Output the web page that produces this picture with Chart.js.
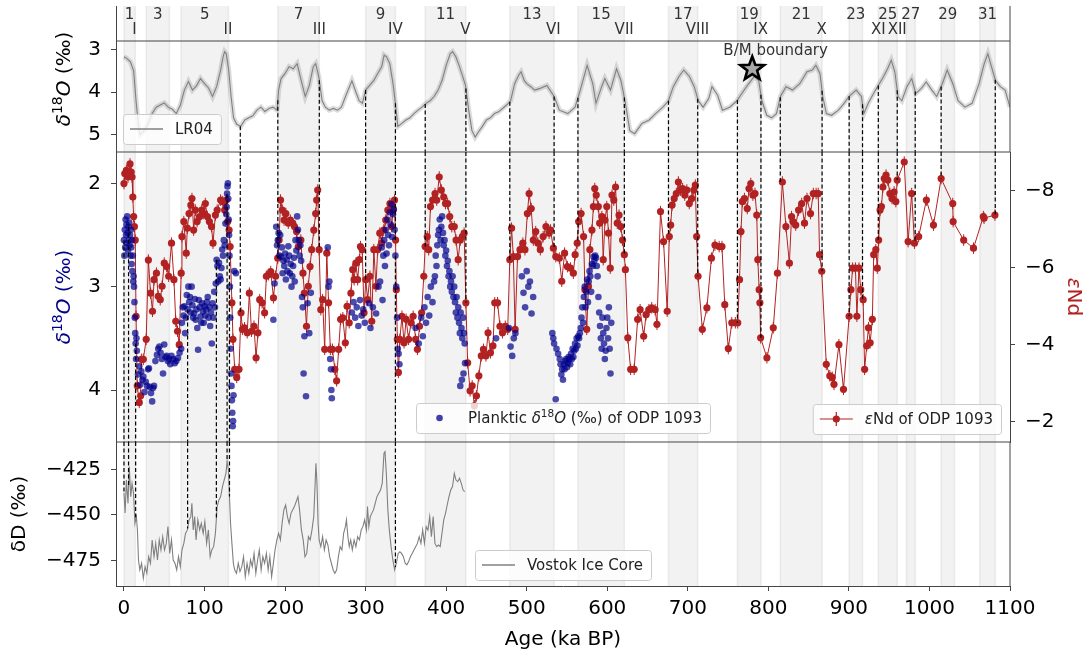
<!DOCTYPE html>
<html><head><meta charset="utf-8">
<script src="https://cdn.jsdelivr.net/npm/chart.js@4.4.1/dist/chart.umd.min.js"></script>
<style>
html,body{margin:0;padding:0;background:#fff;overflow:hidden}
#wrap{position:relative;width:1091px;height:659px;background:#fff}
#wrap canvas{position:absolute;left:0;top:0}
</style></head><body>
<div id="wrap">
<canvas id="cA" width="1091" height="659"></canvas>
<canvas id="cB" width="1091" height="659"></canvas>
<canvas id="cC" width="1091" height="659"></canvas>
</div>
<script>
// ---------------- DATA ----------------
const ageTicks = [0,100,200,300,400,500,600,700,800,900,1000,1100];
const lr04Ticks = [3,4,5];
const plankTicks = [2,3,4];
const ndTicks = [-8,-6,-4,-2];
const vostokTicks = [-425,-450,-475];

const misLabel = ['1','3','5','7','9','11','13','15','17','19','21','23','25','27','29','31'];
const misStart = [0,27.6,70.8,191,300,374,479,563.6,676,761.6,814.8,900.3,936.5,971.4,1014.5,1062.5];
const misEnd   = [14,56.5,129.7,242.5,337,424.5,534,621.2,712.3,790.8,866.7,916.9,960,982.3,1031,1081.7];

const termLabel = ['I','II','III','IV','V','VI','VII','VIII','IX','X','XI','XII'];
const termAge   = [13,129,242.5,337,424,533,621,712,790.5,866,936.5,960];

const lr04TieAges   = [144.4,191,242.5,300,337,374,424.5,479,534,563.6,621.2,676,712.3,761.6,790.8,814.8,866.7,900.3,916.9,936.5,960,982.3,1014.5,1081.7];
const vostokTieAges = [0,5.7,14.5,79,114.7,128,131,337];

const bmAge = 780, bmValue = 3.455;

const lr04 = [[0,3.17],[3,3.2],[8,3.29],[12,3.5],[15,4.2],[18,4.8],[20,5.0],[25,4.9],[30,4.73],[35,4.5],[40,4.35],[45,4.3],[50,4.25],[55,4.35],[60,4.4],[65,4.5],[70,4.3],[75,3.95],[80,3.75],[85,3.95],[90,3.85],[95,3.68],[100,3.8],[105,3.9],[110,4.1],[115,3.87],[120,3.48],[123,3.17],[125,3.05],[127,3.1],[130,3.48],[133,4.1],[136,4.6],[140,4.75],[145,4.8],[150,4.65],[155,4.6],[160,4.55],[165,4.42],[170,4.35],[175,4.45],[180,4.38],[185,4.35],[190,4.42],[192,3.95],[195,3.68],[200,3.56],[205,3.4],[210,3.45],[215,3.33],[220,3.72],[225,4.1],[230,3.85],[235,3.4],[238,3.33],[242,3.65],[246,4.2],[250,4.35],[255,4.42],[260,4.38],[265,4.42],[270,4.35],[275,4.1],[283,3.73],[288,4.0],[292,4.2],[296,4.26],[300,3.95],[305,3.84],[310,3.73],[315,3.56],[320,3.4],[323,3.13],[326,3.17],[330,3.33],[334,3.8],[337,4.26],[340,4.8],[345,4.73],[350,4.65],[355,4.6],[360,4.5],[365,4.42],[370,4.35],[375,4.26],[380,4.2],[385,4.1],[390,3.95],[395,3.72],[400,3.37],[405,3.1],[408,3.05],[412,3.17],[416,3.37],[420,3.6],[424,3.84],[428,4.42],[432,4.9],[436,5.05],[440,4.93],[445,4.8],[450,4.65],[455,4.6],[460,4.5],[465,4.46],[470,4.38],[475,4.3],[480,4.2],[485,3.8],[490,3.6],[493,3.52],[497,3.73],[500,3.8],[505,3.87],[510,3.95],[516.5,3.91],[525,3.84],[534,4.1],[540.5,4.42],[551,4.5],[560,4.35],[566.5,3.95],[575,3.37],[582,3.8],[586,4.26],[593,3.87],[597,3.68],[604,3.95],[611.5,3.45],[617,3.73],[622,4.2],[628,4.9],[634,4.97],[643,4.73],[652,4.65],[660,4.5],[669,4.35],[676,4.2],[682,3.87],[689,3.63],[695,3.48],[702,3.63],[708,3.87],[713,4.2],[719,4.35],[726,4.15],[730,3.87],[737,4.07],[743,4.42],[752,4.35],[761,4.2],[767,4.03],[774,3.84],[782.5,3.63],[788,3.73],[792,4.2],[798,4.54],[804,4.6],[810,4.5],[815,4.1],[822,3.87],[830,3.95],[839,3.8],[848,3.52],[854.5,3.48],[859,3.37],[864,3.56],[867.6,4.1],[872,4.5],[878.5,4.54],[887,4.42],[894,4.26],[900,4.1],[909,3.95],[915.5,4.1],[918.6,4.5],[924,4.26],[933,3.95],[941.7,3.68],[948,3.45],[952.6,3.25],[957,3.52],[961,4.1],[965.7,4.2],[972,3.87],[978,3.68],[983,4.03],[990,3.91],[996,3.76],[1003,3.95],[1009,4.1],[1016,3.8],[1022,3.48],[1029,3.8],[1035.5,4.2],[1044,4.35],[1053,4.26],[1061.6,3.8],[1068,3.33],[1072.5,3.1],[1077,3.4],[1082,3.73],[1088,3.87],[1094,3.95],[1100,4.35]];

const planktic = [[0,2.55],[0.5,2.7],[1,2.45],[1.5,2.62],[2,2.35],[2.5,2.5],[3,2.4],[3.5,2.58],[4,2.32],[4.5,2.48],[5,2.65],[5.5,2.42],[6,2.55],[6.5,2.38],[7,2.6],[7.5,2.5],[8,2.7],[8.5,2.45],[9,2.62],[9.5,2.78],[10,2.55],[10.5,2.85],[11,2.7],[11.5,2.95],[12,2.9],[12.5,3.0],[13,3.15],[13.5,3.3],[14,3.45],[14.5,3.55],[15,3.7],[15.5,3.5],[16,3.62],
[17.5,3.85],[19,3.77],[20,3.95],[21.5,3.82],[23,3.9],[24,3.87],[25.5,4.02],[27,3.92],[28.5,3.96],[30,3.8],[31,3.79],[32,3.97],[33.6,4.03],[35,4.11],[36,3.98],[37.3,3.96],
[39,3.72],[41,3.66],[42.5,3.6],[44,3.58],[45.5,3.64],[47,3.7],[48.5,3.84],[50,3.56],[51.5,3.68],[53,3.67],[54.5,3.72],[56,3.7],[57.5,3.75],[59,3.67],[61,3.7],[63,3.74],[65,3.72],[67,3.69],[69,3.64],[71,3.6],
[72,3.35],[73,3.2],[74,3.28],[75,3.19],[76,3.45],[77,3.3],[78,3.08],[79,3.22],[80,3.0],[81,3.15],[82,3.1],[83,3.25],[84,3.0],[85,3.18],[86,3.3],[87,3.26],[88,3.12],[89,3.32],[90,3.22],[91,3.4],[92,3.61],[93,3.13],[94,3.2],[95,3.29],[96,3.35],[97,3.16],[98,3.24],[99,3.35],[100,3.19],[101,3.28],[102,3.22],[103,3.15],[104,3.1],[105,3.3],[106,3.2],[107,3.38],[108,3.25],[109,3.55],[110,3.16],[111,3.3],[112,3.05],[113,3.2],[114,2.97],[115,2.74],[116,2.8],[117,2.95],
[118,2.77],[119,2.9],[120,2.93],[121,2.82],[122,2.64],[123,2.7],[124,2.55],[125,2.6],[126,2.39],[127,2.3],[127.5,2.23],[128,2.1],[128.5,2.03],[129,2.0],[129.5,2.15],[130,2.35],[130.5,2.5],[131,2.7],[131.5,3.0],[132,3.3],[132.5,3.6],[133,3.84],[133.5,3.96],[134,4.1],[134.5,4.22],[135,4.35],[135.5,4.3],[136,4.05],[137,2.85],[139,2.87],
[185.5,3.32],[187,2.97],[189,2.42],[190,2.6],[191,2.55],[192,2.48],[193,2.7],[194,2.5],[195,2.71],[196,2.62],[197,2.87],[198,2.75],[199,2.8],[200,2.68],[201,2.93],[202,2.74],[203,2.85],[204,2.61],[205,2.7],[206,2.87],[207,2.78],[208,3.0],[209,2.9],[210,2.8],[211,2.72],[212,2.95],[213,2.55],[214,2.65],[215,2.32],[216,2.45],[217,2.55],[218,2.7],[219,2.6],[220,2.75],[221,3.1],[222,3.2],[223,3.84],[224,3.48],[226,4.06],[228,3.16],[230,3.45],[232,3.06],
[253,2.62],[254,3.0],[255,2.95],[256,3.7],[257,3.8],[257.5,4.0],[258,4.08],
[283,3.25],[285,3.15],[287,3.3],[289,3.2],[291,3.38],[293,3.13],[295,3.28],[297,3.22],[299,3.35],
[304,3.16],[306,3.4],[309,3.2],[313,3.26],[316,3.0],
[318,2.95],[320,2.62],[321,3.13],[322,2.7],[323,2.55],[324,2.8],[325,2.45],[326,2.68],[327,2.35],[328,2.5],[329,2.6],[330,2.28],[331,2.4],[332,2.2],[333,2.52],[334,2.3],[335,2.25],[336,2.45],[337,2.7],[338,3.0],[339,3.3],[340,3.6],[341,3.65],[342,3.75],
[362,3.4],[366,3.55],[369,3.3],[371,3.48],[373,3.2],[375,3.35],[377,3.1],[379,3.28],[381,3.0],[383,3.15],
[385,2.95],[386,2.9],[387,2.7],[388,2.8],[389,2.6],[390,2.5],[391,2.45],[392,2.35],[393,2.55],[394,2.42],[395,2.32],[396,2.48],[397,2.6],[398,2.55],[399,2.7],[400,2.65],[401,2.8],[402,2.75],[403,2.9],[404,2.85],[405,3.0],[406,2.95],[407,3.05],[408,2.9],[409,3.1],[410,3.0],[411,3.15],[412,3.25],[413,3.1],[414,3.3],[415,3.2],[416,3.35],[417,3.45],[417.5,3.96],[418,3.25],[419,3.4],[419.5,3.9],[420,3.5],[421,3.3],[421.5,3.84],[422,3.45],[423,3.55],[423.5,3.74],
[462,3.5],[478,3.4],[480,3.58],[482,3.67],[484,3.5],[486,3.45],[494,2.9],[496,3.06],[498,3.2],[500,2.85],[502,3.0],[504,2.95],[506,3.26],[508,3.1],
[531.8,3.45],[533,3.5],[534,3.55],[536,4.09],[537,3.6],[539,3.65],[541,3.7],[542,3.75],[543,3.85],[544,3.8],[545,3.9],[546,3.75],[547,3.8],[548,3.72],[549,3.7],[550,3.78],[551,3.74],[552,3.68],[553,3.7],[554,3.75],[555,3.65],[556,3.7],[557,3.6],[558,3.68],[559,3.62],[560,3.55],[561,3.6],[562,3.5],[563,3.57],[564,3.48],[565,3.5],[566,3.45],[567,3.4],[568,3.3],[569,3.2],[570,3.35],[571,3.1],[572,3.0],[573,3.2],[574,3.05],[575,2.93],[576,3.15],[577,2.95],[578,2.85],[579,2.9],[580,3.05],[581,2.78],[582,2.8],[583,2.71],[584,2.75],[585,2.7],[586,2.72],[587,2.8],[588,2.9],[589,3.1],[590,3.25],[591,3.38],[592,3.5],[593,3.6],[594,3.3],[595,3.45],[596,3.55],[597,3.7],[598,3.62],[599,3.4],[600,3.3],[601,3.5],[602,3.2],[603,3.6],[604,3.84],[605,3.35]];

const epsNd = [[0,-8.19],[1,-8.45],[3,-8.53],[5,-8.36],[7.5,-8.7],[9,-8.49],[10,-8.36],[11,-7.84],[12,-7.33],[13,-7.07],[14,-6.72],[15,-4.74],[16.5,-2.93],[19,-2.5],[20.7,-2.67],[21.6,-3.62],[24,-3.62],[27.6,-4.14],[30.3,-6.2],[33,-5.34],[35.4,-4.87],[37.3,-5.69],[40.3,-5.86],[42.5,-5.26],[45,-5.17],[47.3,-5.52],[50,-6.12],[53,-6.03],[55.5,-5.78],[59,-6.64],[62,-5.69],[64.3,-4.61],[66.5,-4.35],[68.6,-4.0],[71,-5.86],[72,-6.81],[74.3,-7.2],[77.3,-6.38],[78.6,-7.03],[80.8,-7.41],[83,-7.63],[84.4,-7.8],[86.5,-6.98],[88.6,-7.5],[90.8,-7.2],[94,-7.33],[96.5,-7.5],[99,-7.41],[101,-7.67],[103.6,-7.33],[106,-7.2],[108.7,-7.07],[110.5,-6.64],[113.5,-7.37],[115.7,-7.5],[120,-7.76],[122.7,-7.72],[125,-7.5],[127,-7.76],[128.8,-7.2],[130.5,-6.98],[131.8,-6.55],[134,-5.09],[135.3,-4.14],[137.5,-3.36],[140,-3.15],[142.8,-3.36],[145.3,-4.83],[147,-4.4],[149.7,-4.44],[153,-4.31],[155.7,-5.34],[158.3,-4.35],[161.4,-4.48],[164,-3.66],[166.3,-4.31],[168.5,-5.17],[171.5,-5.09],[174.6,-4.83],[176.8,-5.78],[179.5,-5.82],[182.2,-5.9],[185.6,-5.22],[188.2,-5.78],[190.9,-6.25],[192.6,-6.72],[194.4,-7.76],[196.6,-7.5],[198.8,-7.24],[201,-7.41],[204,-7.16],[206.5,-7.24],[209.5,-7.16],[211.7,-7.07],[214.3,-6.94],[216.5,-6.55],[219.6,-6.72],[222.2,-5.86],[224,-5.34],[226.6,-4.48],[228.8,-5.52],[231,-6.03],[233,-6.47],[235.7,-6.98],[238,-7.41],[239.2,-7.76],[240.5,-8.02],[242.3,-6.47],[244.4,-4.91],[246.6,-5.17],[249.2,-3.88],[251.8,-6.38],[254,-5.09],[256.2,-3.88],[258.8,-3.88],[261.8,-3.36],[264,-3.06],[266.5,-3.88],[269,-4.66],[271.7,-4.7],[274.8,-4.05],[277,-5.0],[279.6,-4.57],[281.8,-5.34],[284,-5.95],[285.7,-5.69],[287.9,-6.12],[290.1,-5.69],[292.3,-6.21],[293.6,-6.55],[295.8,-6.47],[298,-4.83],[300.2,-5.69],[302.4,-5.17],[305.4,-5.78],[307.6,-4.61],[310.2,-6.47],[312.8,-5.52],[315,-6.47],[317.6,-6.9],[319.8,-6.64],[322.4,-6.98],[325,-7.24],[327.6,-7.5],[330.2,-7.67],[332.4,-7.07],[334.1,-7.5],[335.9,-7.76],[337.2,-6.72],[338.1,-5.43],[339.4,-4.14],[340.7,-3.28],[342.5,-4.14],[345.1,-4.74],[347.7,-4.05],[350.3,-4.66],[353.3,-4.14],[356.4,-4.57],[359,-4.74],[362.1,-4.14],[364.3,-3.88],[366.9,-4.48],[369.5,-4.83],[372.2,-5.78],[373.9,-6.55],[376.5,-6.81],[378.3,-6.47],[380.5,-7.59],[383.1,-7.76],[386.2,-7.93],[388.3,-7.76],[391.4,-8.36],[394,-8.02],[397,-7.84],[399.2,-7.67],[401.8,-7.67],[404.4,-7.33],[407,-7.07],[410.1,-7.07],[412.3,-6.72],[414.9,-6.21],[417.5,-6.72],[420.1,-6.81],[422.3,-6.9],[424.5,-5.09],[426.7,-3.53],[429.7,-2.8],[432.3,-2.93],[435,-2.41],[437.6,-2.67],[440.6,-3.19],[443.6,-3.71],[446.3,-3.88],[449.4,-3.71],[452,-4.31],[455,-3.79],[458.1,-3.97],[460.3,-5.09],[463.8,-5.09],[466.8,-4.48],[469.9,-4.31],[473.4,-4.48],[476.4,-4.4],[479,-6.21],[481.2,-7.03],[483.4,-6.29],[485.6,-4.4],[488.6,-6.29],[491.7,-6.47],[495.2,-6.64],[497.8,-6.47],[500.8,-7.41],[503,-7.93],[505.6,-7.54],[508.2,-6.72],[511.2,-6.94],[513.9,-6.64],[516.9,-6.47],[520.4,-6.81],[523.9,-7.07],[527.8,-6.9],[529.6,-6.98],[533.1,-6.51],[536.1,-6.29],[540.5,-6.25],[543.5,-5.65],[547,-6.38],[550.5,-6.03],[554.4,-5.99],[557.9,-5.86],[560.1,-6.34],[562.7,-6.64],[564.5,-7.2],[567.5,-7.41],[570.6,-6.81],[572.3,-5.43],[574.5,-4.4],[576.7,-5.52],[578.4,-6.47],[581,-6.98],[582.8,-7.59],[584.5,-8.06],[586.3,-7.89],[588.9,-7.59],[590.6,-7.16],[593.3,-7.33],[595,-6.21],[597.2,-7.24],[599.4,-7.59],[601.5,-6.9],[603.7,-5.99],[605.9,-7.89],[608.1,-7.76],[610.3,-8.1],[612.4,-7.16],[614.6,-7.37],[616.8,-7.07],[619,-6.72],[621.2,-6.34],[622.5,-5.95],[625.5,-4.18],[629,-3.36],[633.4,-3.36],[637.7,-4.66],[640.8,-4.91],[645.2,-4.22],[648.2,-4.78],[651.7,-4.91],[655.2,-4.96],[659.5,-4.91],[661.7,-4.53],[666.1,-7.46],[669.9,-6.68],[674.4,-4.87],[677,-6.81],[678.7,-7.11],[680.5,-7.63],[683.1,-7.8],[685.7,-7.93],[688.3,-8.23],[691,-8.02],[693.6,-8.06],[696.2,-7.89],[698.8,-8.02],[701.8,-7.67],[704.9,-7.8],[707.5,-8.02],[709.3,-8.15],[711,-6.81],[712.7,-5.78],[718,-4.4],[723.7,-4.96],[729.3,-6.25],[733.7,-6.59],[738.9,-6.55],[742.4,-6.55],[745.9,-5.04],[750.3,-3.9],[754.6,-4.57],[759,-4.57],[762,-4.57],[764.2,-5.69],[766,-6.94],[767.7,-7.72],[770.3,-7.8],[773.8,-7.54],[776,-8.06],[778.2,-8.19],[780.8,-7.89],[783.4,-7.93],[785.6,-7.37],[786.9,-6.21],[788.6,-5.43],[789.5,-5.09],[790.4,-4.18],[798.2,-3.66],[806.1,-4.44],[811.3,-5.86],[817.4,-8.23],[821.8,-7.07],[826.1,-6.12],[828.8,-7.33],[830.5,-7.2],[834,-7.11],[837.5,-7.5],[841.4,-7.67],[844.9,-7.16],[848,-7.8],[852.3,-7.41],[855.8,-7.93],[859.3,-7.93],[861.9,-7.93],[863.6,-6.34],[866.3,-5.91],[871.9,-3.49],[876.3,-3.19],[879.3,-3.15],[881.5,-2.97],[887.6,-4.0],[893.3,-2.84],[900.3,-4.74],[902.5,-5.43],[904.6,-5.99],[908.1,-5.99],[909.9,-4.74],[912.5,-5.99],[914.7,-5.43],[917.7,-5.17],[919.5,-3.36],[922.1,-3.97],[924.3,-4.44],[926.4,-4.05],[929.1,-4.66],[930.8,-6.34],[933.4,-6.47],[935.2,-5.99],[936.9,-6.72],[938.7,-7.5],[940.4,-7.59],[942.2,-8.1],[943.9,-8.32],[946.1,-8.41],[948.3,-8.28],[950.9,-7.93],[953.5,-7.8],[956.1,-7.97],[958.3,-7.72],[960,-8.28],[968.7,-8.75],[973.5,-6.68],[977.9,-7.93],[981.4,-6.64],[986.6,-6.81],[996.2,-7.76],[1005,-7.11],[1014.5,-8.32],[1028.9,-7.67],[1029.4,-7.2],[1042.5,-6.72],[1054.7,-6.51],[1066.9,-7.33],[1067.8,-7.29],[1081.3,-7.37]];
const epsNdErr = 0.15;

const vostok = [[0,-438],[1.4,-449],[3,-430.9],[5,-443.7],[6.6,-423.5],[8.4,-440],[10,-432.7],[11.9,-438.2],[13.6,-454.7],[15.4,-451],[16.7,-458.3],[18,-474.8],[19.7,-480.3],[21.9,-476.6],[24,-484.9],[26.2,-478.5],[28.4,-482.1],[30.6,-473],[32.9,-476.6],[35,-463.8],[37.3,-473],[39.4,-465.7],[41.6,-474.8],[43.8,-463.8],[45.9,-469.3],[48.1,-462],[50.3,-469.3],[52.5,-465.7],[54.6,-456.5],[56.8,-471.2],[59,-463.8],[61.1,-474.8],[63.3,-476.6],[65.5,-480.3],[67.7,-473],[69.9,-478.5],[72,-469.3],[74.3,-465.7],[76.4,-460.2],[78.7,-458.3],[80.8,-452.8],[83,-451],[84.3,-443.7],[86,-458.3],[87.8,-451],[89.5,-463.8],[91.7,-452.8],[94,-458.3],[96,-454.7],[98.3,-460.2],[100.4,-453.8],[102.6,-465.7],[104.8,-458.3],[107,-473],[109,-469.3],[111.3,-467.5],[113.5,-460.2],[115.7,-445.5],[117.9,-441.8],[120,-440],[122.3,-434.5],[124.4,-430.9],[126.6,-427.2],[128,-420.8],[129.7,-425.4],[131,-440],[132.3,-454.7],[134,-465.7],[135.8,-476.6],[137.5,-480.3],[139.7,-482.1],[141.9,-476.6],[144,-481.2],[146.3,-478.5],[148.4,-473],[150.6,-484],[152.8,-476.6],[155,-482.1],[157.1,-474.8],[159.3,-478.5],[161.5,-471.2],[163.7,-482.1],[165.9,-474.8],[168,-469.3],[170.3,-480.3],[172.4,-473],[174.6,-476.6],[176.8,-471.2],[179,-480.3],[181.1,-473],[183.3,-484],[185.5,-476.6],[187.6,-469.3],[189.8,-463.8],[192,-460.2],[194.2,-463.8],[196.3,-454.7],[198.5,-447.3],[200.7,-444.6],[202.9,-451],[205,-454.7],[207.3,-449.2],[209.4,-447.3],[211.6,-445.5],[213.8,-442.8],[216,-440],[218,-447.3],[220.3,-458.3],[222.5,-463.8],[224.7,-473],[226.9,-471.2],[229,-462],[231.2,-463.8],[233.4,-458.3],[235.6,-451],[237,-436.4],[238.3,-421.7],[239.6,-432.7],[241,-454.7],[242.3,-463.8],[244.4,-467.5],[246.6,-462],[248.8,-469.3],[251,-463.8],[253.2,-466.6],[255.3,-473],[257.5,-476.6],[259.7,-480.3],[261.8,-482.1],[264,-480.3],[266.2,-473],[268.4,-467.5],[270.6,-469.3],[272.7,-460.2],[274.9,-456.5],[276.2,-452.8],[278,-462],[279.7,-467.5],[281.5,-463.8],[283.5,-469.3],[285.7,-463.8],[287.9,-467.5],[290.1,-462],[292.3,-463.8],[294.5,-458.3],[296.6,-456.5],[298.8,-452.8],[301,-458.3],[302.3,-445.5],[304,-456.5],[305.8,-451],[307.6,-449.2],[309.8,-447.3],[311.9,-443.7],[314.1,-440],[316.3,-438.2],[318.5,-436.4],[320.6,-432.7],[322.8,-416.2],[324.1,-415.3],[325.9,-429],[327.6,-447.3],[329.4,-458.3],[331.6,-467.5],[333.8,-474.8],[336,-480.3],[338.2,-476.6],[340.4,-471.2],[342.5,-470.3],[344.7,-471.2],[346.9,-473],[349.1,-476.6],[351.2,-477.5],[353.4,-475.7],[355.6,-473],[357.8,-471.2],[360,-469.3],[362.1,-467.5],[364.3,-465.7],[366.5,-462],[368.7,-465.7],[370.8,-458.3],[373,-465.7],[375.2,-456.5],[377.4,-458.3],[379.6,-451],[381.7,-462],[383.9,-451],[386.1,-465.7],[388.3,-467.5],[390.5,-466.6],[392.6,-467.5],[394.8,-460.2],[397,-452.8],[399.2,-449.2],[401.3,-444.6],[403.5,-440],[405.7,-436.4],[407.9,-434.5],[410.1,-427.2],[412.2,-430.9],[414.4,-431.8],[416.6,-429.9],[418.8,-432.7],[421,-436.4],[423.1,-437.3]];

// ---------------- LAYOUT / STYLE ----------------
const FONT = '"DejaVu Sans", "Liberation Sans", sans-serif';
const W = 1091, H = 659;
const AREA_R = 1010, LEFT_W = 116;
const PANEL_A = [6, 152], PANEL_B = [152, 442], PANEL_C = [442, 586];
const SPINE = '#444';
const X_MIN = -9.9, X_MAX = 1100;

const toPts = arr => arr.map(p => ({x: p[0], y: p[1]}));
const fmt = v => (v < 0 ? '\u2212' + Math.abs(v) : String(v));

function interp(series, age) {
  if (age <= series[0][0]) return series[0][1];
  for (let i = 1; i < series.length; i++) {
    if (series[i][0] >= age) {
      const a0 = series[i-1][0], v0 = series[i-1][1], a1 = series[i][0], v1 = series[i][1];
      return v0 + (v1 - v0) * (age - a0) / (a1 - a0);
    }
  }
  return series[series.length-1][1];
}
function nearest(series, age) {
  let best = series[0];
  for (const p of series) if (Math.abs(p[0]-age) < Math.abs(best[0]-age)) best = p;
  return best[1];
}

function xAxis(show) {
  return {
    type: 'linear', min: X_MIN, max: X_MAX, display: show,
    afterBuildTicks(s) { s.ticks = ageTicks.map(v => ({value: v})); },
    afterFit(s) { if (show) s.height = H - PANEL_C[1]; s.paddingLeft = 0; s.paddingRight = 0; },
    ticks: { font: {family: FONT, size: 20}, color: '#000', padding: 6, maxRotation: 0, autoSkip: false, callback: v => fmt(v) },
    grid: { display: true, drawOnChartArea: false, drawTicks: true, tickLength: 5, color: SPINE },
    border: { display: true, color: SPINE, width: 1 },
    title: { display: true, text: 'Age (ka BP)', font: {family: FONT, size: 20}, color: '#000', padding: {top: 0, bottom: 7} }
  };
}
function yAxis(o) {
  return {
    type: 'linear', position: o.position || 'left', min: o.min, max: o.max, reverse: !!o.reverse,
    afterFit(s) { s.width = o.width; s.paddingTop = 0; s.paddingBottom = 0; },
    afterBuildTicks(s) { s.ticks = o.ticks.map(v => ({value: v})); },
    ticks: { font: {family: FONT, size: 20}, color: '#000', padding: 10, callback: v => fmt(v) },
    grid: { display: true, drawOnChartArea: false, drawTicks: true, tickLength: 5, color: SPINE },
    border: { display: true, color: SPINE, width: 1 },
    title: o.title || { display: false }
  };
}

// ---------------- DRAW HELPERS ----------------
function drawBands(chart) {
  const {ctx, chartArea: a, scales: {x}} = chart;
  ctx.save();
  ctx.beginPath(); ctx.rect(a.left, a.top, a.right - a.left, a.bottom - a.top); ctx.clip();
  for (let i = 0; i < misStart.length; i++) {
    const x0 = x.getPixelForValue(misStart[i]), x1 = x.getPixelForValue(misEnd[i]);
    ctx.fillStyle = 'rgba(128,128,128,0.1)';
    ctx.fillRect(x0, a.top, x1 - x0, a.bottom - a.top);
    ctx.strokeStyle = 'rgba(128,128,128,0.13)'; ctx.lineWidth = 1.5;
    ctx.beginPath(); ctx.moveTo(x0, a.top); ctx.lineTo(x0, a.bottom); ctx.moveTo(x1, a.top); ctx.lineTo(x1, a.bottom); ctx.stroke();
  }
  ctx.restore();
}
function dashed(ctx, x, y0, y1) {
  ctx.save(); ctx.strokeStyle = '#000'; ctx.lineWidth = 1.2; ctx.setLineDash([4, 2.5]);
  ctx.beginPath(); ctx.moveTo(x, y0); ctx.lineTo(x, y1); ctx.stroke(); ctx.restore();
}
function hline(ctx, x0, x1, y) {
  ctx.save(); ctx.strokeStyle = SPINE; ctx.lineWidth = 1;
  ctx.beginPath(); ctx.moveTo(x0, y); ctx.lineTo(x1, y); ctx.stroke(); ctx.restore();
}
function vline(ctx, x, y0, y1) {
  ctx.save(); ctx.strokeStyle = SPINE; ctx.lineWidth = 1;
  ctx.beginPath(); ctx.moveTo(x, y0); ctx.lineTo(x, y1); ctx.stroke(); ctx.restore();
}
function richItems(ctx, runs, size) {
  return runs.map(r => {
    const s = r.sup ? size * 0.7 : size;
    const f = (r.it ? 'italic ' : '') + s + 'px ' + FONT;
    ctx.font = f;
    return {r, f, w: ctx.measureText(r.t).width};
  });
}
function richWidth(ctx, runs, size) {
  ctx.save(); const w = richItems(ctx, runs, size).reduce((a, b) => a + b.w, 0); ctx.restore(); return w;
}
function drawRich(ctx, runs, x, y, size, color, align, rot) {
  ctx.save(); ctx.translate(x, y); if (rot) ctx.rotate(rot);
  const items = richItems(ctx, runs, size);
  const tw = items.reduce((a, b) => a + b.w, 0);
  let cx = align === 'center' ? -tw / 2 : 0;
  const base = size * 0.36;
  ctx.fillStyle = color; ctx.textBaseline = 'alphabetic'; ctx.textAlign = 'left';
  for (const it of items) {
    ctx.font = it.f;
    ctx.fillText(it.r.t, cx, it.r.sup ? base - size * 0.42 : base);
    cx += it.w;
  }
  ctx.restore();
}
function rrect(ctx, x, y, w, h, r) {
  ctx.beginPath(); ctx.moveTo(x + r, y); ctx.lineTo(x + w - r, y); ctx.arcTo(x + w, y, x + w, y + r, r);
  ctx.lineTo(x + w, y + h - r); ctx.arcTo(x + w, y + h, x + w - r, y + h, r); ctx.lineTo(x + r, y + h);
  ctx.arcTo(x, y + h, x, y + h - r, r); ctx.lineTo(x, y + r); ctx.arcTo(x, y, x + r, y, r); ctx.closePath();
}
const LEG = {size: 15, pad: 7, hw: 33, gap: 12, padR: 8, h: 30};
function legendWidth(ctx, runs) { return LEG.pad + LEG.hw + LEG.gap + richWidth(ctx, runs, LEG.size) + LEG.padR; }
function drawLegend(ctx, x0, yc, runs, handle) {
  const w = legendWidth(ctx, runs);
  ctx.save();
  rrect(ctx, x0 + 0.5, yc - LEG.h / 2 + 0.5, w, LEG.h, 3);
  ctx.fillStyle = 'rgba(255,255,255,0.8)'; ctx.fill();
  ctx.strokeStyle = '#cccccc'; ctx.lineWidth = 1; ctx.stroke();
  ctx.restore();
  ctx.save(); handle(ctx, x0 + LEG.pad, x0 + LEG.pad + LEG.hw, yc); ctx.restore();
  drawRich(ctx, runs, x0 + LEG.pad + LEG.hw + LEG.gap, yc, LEG.size, '#222', 'left');
}
function lineHandle(color, width) {
  return (ctx, x0, x1, y) => { ctx.strokeStyle = color; ctx.lineWidth = width; ctx.beginPath(); ctx.moveTo(x0, y); ctx.lineTo(x1, y); ctx.stroke(); };
}
function starPath(ctx, cx, cy, ro, ri) {
  ctx.beginPath();
  for (let i = 0; i < 10; i++) {
    const r = i % 2 ? ri : ro, ang = -Math.PI / 2 + i * Math.PI / 5;
    const px = cx + r * Math.cos(ang), py = cy + r * Math.sin(ang);
    if (i === 0) ctx.moveTo(px, py); else ctx.lineTo(px, py);
  }
  ctx.closePath();
}
const d18Runs = [{t: 'δ', it: true}, {t: '18', sup: true}, {t: 'O', it: true}, {t: ' (‰)'}];

// ---------------- PANEL A : LR04 ----------------
const panelA = {
  id: 'panelA',
  beforeDatasetsDraw(chart) { drawBands(chart); },
  afterDatasetsDraw(chart) {
    const {ctx, chartArea: a, scales: {x, y}} = chart;
    for (const age of lr04TieAges) {
      const px = x.getPixelForValue(age);
      dashed(ctx, px, y.getPixelForValue(interp(lr04, age)), a.bottom);
    }
  },
  afterDraw(chart) {
    const {ctx, chartArea: a, scales: {x, y}} = chart;
    hline(ctx, a.left, a.right, y.getPixelForValue(2.8));
    hline(ctx, a.left, a.right, a.bottom);
    vline(ctx, a.right, a.top, a.bottom);
    ctx.save();
    ctx.font = '15px ' + FONT; ctx.fillStyle = '#333'; ctx.textAlign = 'center'; ctx.textBaseline = 'middle';
    for (let i = 0; i < misLabel.length; i++) {
      ctx.fillText(misLabel[i], x.getPixelForValue((misStart[i] + misEnd[i]) / 2), y.getPixelForValue(2.19));
    }
    for (let i = 0; i < termLabel.length; i++) {
      ctx.fillText(termLabel[i], x.getPixelForValue(termAge[i]), y.getPixelForValue(2.54));
    }
    ctx.fillText('B/M boundary', x.getPixelForValue(809), y.getPixelForValue(3.03));
    ctx.restore();
    ctx.save();
    starPath(ctx, x.getPixelForValue(bmAge), y.getPixelForValue(bmValue), 12.5, 5.2);
    ctx.fillStyle = '#a8a8a8'; ctx.fill();
    ctx.lineWidth = 2.6; ctx.strokeStyle = '#000'; ctx.lineJoin = 'miter'; ctx.stroke();
    ctx.restore();
    drawLegend(ctx, a.left + 7, a.bottom - 23, [{t: 'LR04'}], lineHandle('#808080', 1.3));
    drawRich(ctx, d18Runs, 63, (a.top + a.bottom) / 2, 20, '#000', 'center', -Math.PI / 2);
  }
};

new Chart(document.getElementById('cA'), {
  type: 'line',
  data: { datasets: [
    { data: toPts(lr04), borderColor: '#808080', borderWidth: 1.1, pointRadius: 0, tension: 0 },
    { data: toPts(lr04), borderColor: 'rgba(128,128,128,0.28)', borderWidth: 5, pointRadius: 0, tension: 0 }
  ]},
  options: {
    responsive: false, animation: false, events: [],
    layout: { padding: { left: 0, right: W - AREA_R, top: PANEL_A[0], bottom: H - PANEL_A[1] } },
    plugins: { legend: {display: false}, tooltip: {enabled: false} },
    scales: { x: xAxis(false), y: yAxis({min: 1.98, max: 5.40, reverse: true, ticks: lr04Ticks, width: LEFT_W}) }
  },
  plugins: [panelA]
});

// ---------------- PANEL B : ODP 1093 ----------------
const panelB = {
  id: 'panelB',
  beforeDatasetsDraw(chart) {
    drawBands(chart);
    const {ctx, scales: {x, y2}} = chart;
    ctx.save(); ctx.strokeStyle = '#b22222'; ctx.lineWidth = 1;
    ctx.beginPath();
    for (const p of epsNd) {
      const px = x.getPixelForValue(p[0]);
      ctx.moveTo(px, y2.getPixelForValue(p[1] - epsNdErr));
      ctx.lineTo(px, y2.getPixelForValue(p[1] + epsNdErr));
    }
    ctx.stroke(); ctx.restore();
  },
  afterDatasetsDraw(chart) {
    const {ctx, chartArea: a, scales: {x, y, y2}} = chart;
    for (const age of lr04TieAges) {
      dashed(ctx, x.getPixelForValue(age), a.top, y2.getPixelForValue(nearest(epsNd, age)));
    }
    for (const age of vostokTieAges) {
      dashed(ctx, x.getPixelForValue(age), y.getPixelForValue(nearest(planktic, age)), a.bottom);
    }
  },
  afterDraw(chart) {
    const {ctx, chartArea: a} = chart;
    hline(ctx, a.left, a.right, a.bottom);
    const pRuns = [{t: 'Planktic '}, {t: 'δ', it: true}, {t: '18', sup: true}, {t: 'O', it: true}, {t: ' (‰) of ODP 1093'}];
    const pw = legendWidth(ctx, pRuns);
    drawLegend(ctx, (a.left + a.right) / 2 - pw / 2, a.bottom - 24, pRuns, (c, x0, x1, yc) => {
      c.fillStyle = 'rgba(0,0,139,0.75)'; c.beginPath(); c.arc((x0 + x1) / 2, yc, 3.3, 0, Math.PI * 2); c.fill();
    });
    const nRuns = [{t: 'ε', it: true}, {t: 'Nd of ODP 1093'}];
    const nw = legendWidth(ctx, nRuns);
    drawLegend(ctx, a.right - 9 - nw, a.bottom - 23, nRuns, (c, x0, x1, yc) => {
      c.strokeStyle = '#b22222'; c.lineWidth = 1.2;
      c.beginPath(); c.moveTo(x0, yc); c.lineTo(x1, yc); c.moveTo((x0 + x1) / 2, yc - 7); c.lineTo((x0 + x1) / 2, yc + 7); c.stroke();
      c.fillStyle = '#b22222'; c.beginPath(); c.arc((x0 + x1) / 2, yc, 3.6, 0, Math.PI * 2); c.fill();
    });
    drawRich(ctx, d18Runs, 63, (a.top + a.bottom) / 2, 20, '#00008b', 'center', -Math.PI / 2);
    drawRich(ctx, [{t: 'ε', it: true}, {t: 'Nd'}], 1075, (a.top + a.bottom) / 2, 20, '#b22222', 'center', Math.PI / 2);
  }
};

new Chart(document.getElementById('cB'), {
  type: 'line',
  data: { datasets: [
    { data: toPts(planktic), yAxisID: 'y', showLine: false, pointRadius: 3.3, pointBackgroundColor: 'rgba(0,0,139,0.7)', pointBorderWidth: 0, borderColor: 'rgba(0,0,139,0.7)' },
    { data: toPts(epsNd), yAxisID: 'y2', borderColor: '#b22222', borderWidth: 1, pointRadius: 3.6, pointBackgroundColor: '#b22222', pointBorderWidth: 0, tension: 0 }
  ]},
  options: {
    responsive: false, animation: false, events: [],
    layout: { padding: { left: 0, right: 0, top: PANEL_B[0], bottom: H - PANEL_B[1] } },
    plugins: { legend: {display: false}, tooltip: {enabled: false} },
    scales: {
      x: xAxis(false),
      y: yAxis({min: 1.697, max: 4.503, reverse: true, ticks: plankTicks, width: LEFT_W}),
      y2: yAxis({min: -9.01, max: -1.47, reverse: true, ticks: ndTicks, width: W - AREA_R, position: 'right'})
    }
  },
  plugins: [panelB]
});

// ---------------- PANEL C : Vostok ----------------
const panelC = {
  id: 'panelC',
  beforeDatasetsDraw(chart) { drawBands(chart); },
  afterDatasetsDraw(chart) {
    const {ctx, chartArea: a, scales: {x, y}} = chart;
    for (const age of vostokTieAges) {
      dashed(ctx, x.getPixelForValue(age), a.top, y.getPixelForValue(interp(vostok, age)));
    }
  },
  afterDraw(chart) {
    const {ctx, chartArea: a} = chart;
    vline(ctx, a.right, a.top, a.bottom);
    const vRuns = [{t: 'Vostok Ice Core'}];
    const vw = legendWidth(ctx, vRuns);
    drawLegend(ctx, (a.left + a.right) / 2 - vw / 2, a.bottom - 21, vRuns, lineHandle('#808080', 1.3));
  }
};

new Chart(document.getElementById('cC'), {
  type: 'line',
  data: { datasets: [
    { data: toPts(vostok), borderColor: '#808080', borderWidth: 1.1, pointRadius: 0, tension: 0 }
  ]},
  options: {
    responsive: false, animation: false, events: [],
    layout: { padding: { left: 0, right: W - AREA_R, top: PANEL_C[0], bottom: 0 } },
    plugins: { legend: {display: false}, tooltip: {enabled: false} },
    scales: {
      x: xAxis(true),
      y: yAxis({min: -489.1, max: -410, ticks: vostokTicks, width: LEFT_W,
        title: { display: true, text: 'δD (‰)', font: {family: FONT, size: 20}, color: '#000', padding: {top: 8, bottom: 0} }})
    }
  },
  plugins: [panelC]
});
</script>
</body></html>
